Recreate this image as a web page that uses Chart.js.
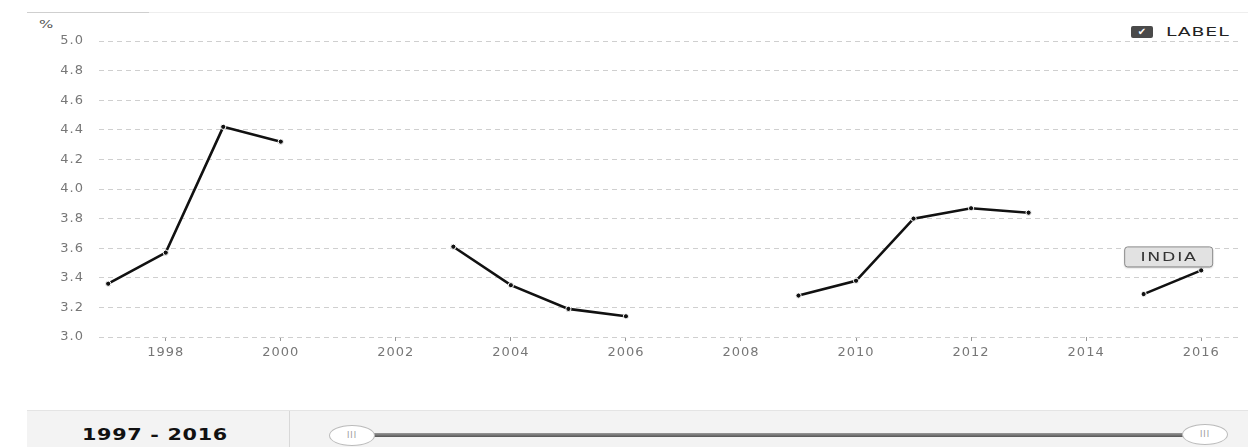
<!DOCTYPE html>
<html>
<head>
<meta charset="utf-8">
<script src="https://cdn.jsdelivr.net/npm/chart.js@4"></script>
<style>
  html, body { margin:0; padding:0; background:#fff; width:1248px; height:447px; overflow:hidden; font-family:"DejaVu Sans", sans-serif; }
  #wrap { position:absolute; left:0; top:0; width:1248px; height:400px; }
  .rule { position:absolute; top:12px; height:1px; }
  #unit { position:absolute; left:39px; top:19px; font-size:10px; color:#555; transform:scaleX(1.5); transform-origin:left center; }
  #chk { position:absolute; left:1131px; top:26px; width:22px; height:12px; background:#4a4a4a; border-radius:2px; color:#fff; font-size:10px; line-height:12px; text-align:center; }
  #legtxt { position:absolute; left:1166px; top:24px; font-size:13px; letter-spacing:0.6px; color:#222; line-height:15px; transform:scaleX(1.45); transform-origin:left center; }
  #bar { position:absolute; left:27px; right:0; top:410px; height:37px; background:#f3f3f3; border-top:1px solid #e4e4e4; }
  #range { position:absolute; left:0; top:0; width:262px; height:37px; border-right:1px solid #d8d8d8; }
  #rangeTxt { position:absolute; left:55px; top:16px; font-size:15px; font-weight:bold; letter-spacing:0.5px; color:#111; line-height:17px; transform:scaleX(1.38); transform-origin:left center; white-space:nowrap; }
  .handle { position:absolute; width:44px; height:19px; background:#fff; border:1px solid #bbb; border-radius:50%; font-size:8px; color:#999; text-align:center; line-height:19px; letter-spacing:1px; }
  #track { position:absolute; left:347px; width:810px; top:22px; height:4px; background:linear-gradient(#999,#555); }
</style>
</head>
<body>
<div class="rule" style="left:27px; width:122px; background:#cfcfcf;"></div>
<div class="rule" style="left:149px; right:0; background:#eeeeee;"></div>
<div id="unit">%</div>
<div id="chk">✔</div><div id="legtxt">LABEL</div>
<div id="wrap"><canvas id="c"></canvas></div>
<div id="bar">
  <div id="range"><div id="rangeTxt">1997 - 2016</div></div>
  <div id="track"></div>
  <div class="handle" style="left:302px; top:14px;">III</div>
  <div class="handle" style="left:1155px; top:13px;">III</div>
</div>
<script>
const years = [1997,1998,1999,2000,2001,2002,2003,2004,2005,2006,2007,2008,2009,2010,2011,2012,2013,2014,2015,2016];
const values = [3.36,3.57,4.42,4.32,null,null,3.61,3.35,3.19,3.14,null,null,3.28,3.38,3.80,3.87,3.84,null,3.29,3.45];
const xTickValues = [1998,2000,2002,2004,2006,2008,2010,2012,2014,2016];
const yTickValues = [3.0,3.2,3.4,3.6,3.8,4.0,4.2,4.4,4.6,4.8,5.0];
const seriesName = 'INDIA';
const xMin = 1996.84, xMax = 2016.64;
const yMin = 3.0, yMax = 5.0;

const spacingPlugin = {
  id: 'spacing',
  beforeDraw(chart) { chart.ctx.letterSpacing = '1px'; },
  afterDraw(chart) { chart.ctx.letterSpacing = '0px'; }
};

const seriesLabelPlugin = {
  id: 'seriesLabel',
  afterDatasetsDraw(chart) {
    const meta = chart.getDatasetMeta(0);
    let idx = -1;
    for (let i = values.length - 1; i >= 0; i--) { if (values[i] !== null) { idx = i; break; } }
    if (idx < 0) return;
    const el = meta.data[idx];
    const ctx = chart.ctx;
    const w = 88, h = 20;
    const x = el.x - 77, y = el.y - 24;
    ctx.save();
    ctx.letterSpacing = '0px';
    ctx.shadowColor = 'rgba(0,0,0,0.25)';
    ctx.shadowBlur = 2;
    ctx.shadowOffsetY = 1;
    ctx.beginPath();
    ctx.roundRect(x + 0.5, y + 0.5, w, h, 3);
    ctx.fillStyle = '#e2e2e2';
    ctx.fill();
    ctx.shadowColor = 'transparent';
    ctx.strokeStyle = '#8a8a8a';
    ctx.lineWidth = 1;
    ctx.stroke();
    ctx.translate(x + w / 2, y + h / 2 + 1);
    ctx.scale(1.45, 1);
    ctx.letterSpacing = '1.2px';
    ctx.fillStyle = '#333';
    ctx.font = '12px "DejaVu Sans"';
    ctx.textAlign = 'center';
    ctx.textBaseline = 'middle';
    ctx.fillText(seriesName, 0.6, 0);
    ctx.restore();
  }
};

new Chart(document.getElementById('c'), {
  type: 'line',
  data: {
    datasets: [{
      label: seriesName,
      data: years.map((yr, i) => ({ x: yr, y: values[i] })),
      borderColor: '#111',
      borderWidth: 2.6,
      tension: 0,
      spanGaps: false,
      pointRadius: 2.6,
      pointBorderWidth: 1,
      pointBorderColor: '#fff',
      pointBackgroundColor: '#111',
      pointHoverRadius: 2.6
    }]
  },
  options: {
    responsive: true,
    maintainAspectRatio: false,
    animation: false,
    events: [],
    layout: { padding: { top: 41, right: 10, bottom: 0, left: 0 } },
    plugins: { legend: { display: false }, tooltip: { enabled: false } },
    scales: {
      x: {
        type: 'linear',
        min: xMin, max: xMax,
        afterBuildTicks(scale) { scale.ticks = xTickValues.map(v => ({ value: v })); },
        afterFit(scale) { scale.height = 63; },
        grid: { drawOnChartArea: false, drawTicks: true, tickLength: 4, color: '#999' },
        border: { display: false },
        ticks: {
          padding: 4,
          maxRotation: 0,
          autoSkip: false,
          color: '#777',
          font: { family: '"DejaVu Sans"', size: 13 },
          callback: v => String(v)
        }
      },
      y: {
        min: yMin, max: yMax,
        afterBuildTicks(scale) { scale.ticks = yTickValues.map(v => ({ value: v })); },
        afterFit(scale) { scale.width = 99; },
        grid: { drawTicks: false, color: '#cfcfcf', lineWidth: 1 },
        border: { display: false, dash: [5, 4] },
        ticks: {
          padding: 15,
          color: '#777',
          font: { family: '"DejaVu Sans"', size: 13 },
          callback: v => Number(v).toFixed(1)
        }
      }
    }
  },
  plugins: [spacingPlugin, seriesLabelPlugin]
});
</script>
</body>
</html>
